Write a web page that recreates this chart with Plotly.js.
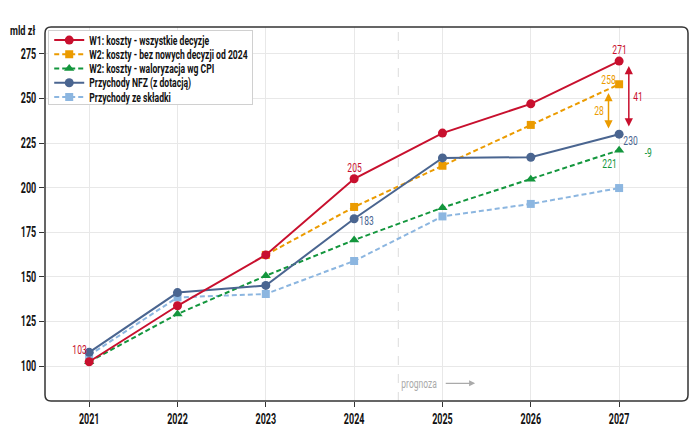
<!DOCTYPE html>
<html>
<head>
<meta charset="utf-8">
<script src="https://cdn.plot.ly/plotly-3.0.1.min.js"></script>
<style>
html,body{margin:0;padding:0;background:#fff;}
#chart{width:700px;height:435px;}
</style>
</head>
<body>
<div id="chart"></div>
<script>
const years = [2021, 2022, 2023, 2024, 2025, 2026, 2027];
const yearsW2 = [2023, 2024, 2025, 2026, 2027];
const w1Costs = [102.4, 133.8, 162.3, 205, 230.6, 247, 271];
const w2NoNew = [162.3, 189.2, 212.3, 235.2, 258];
const w2Cpi = [102.4, 129.2, 150.6, 170.7, 188.8, 204.8, 221];
const nfzRevenue = [107.7, 141.2, 145.2, 182.6, 216.7, 217.1, 230];
const contribRevenue = [106, 138.5, 140.4, 158.9, 183.9, 190.9, 199.8];
const seriesNames = [
  "W1: koszty - wszystkie decyzje",
  "W2: koszty - bez nowych decyzji od 2024",
  "W2: koszty - waloryzacja wg CPI",
  "Przychody NFZ (z dotacją)",
  "Przychody ze składki"
];
const yTicks = [100, 125, 150, 175, 200, 225, 250, 275];

const FONT = 'Roboto, "DejaVu Sans", sans-serif';
const SQUEEZE = {tick: 0.64, legend: 0.715, other: 0.68};
const RED = '#c8102e', ORANGE = '#eb9b00', GREEN = '#13963d', BLUE = '#4a6590', LBLUE = '#8cb6e0';
const DASH = '5px,3px';

const traces = [
  {x: years, y: w1Costs, name: seriesNames[0], mode: 'lines+markers',
   line: {color: RED, width: 2}, marker: {symbol: 'circle', size: 9, color: RED}},
  {x: yearsW2, y: w2NoNew, name: seriesNames[1], mode: 'lines+markers',
   line: {color: ORANGE, width: 2, dash: DASH}, marker: {symbol: 'square', size: 8, color: ORANGE}},
  {x: years, y: w2Cpi, name: seriesNames[2], mode: 'lines+markers',
   line: {color: GREEN, width: 2, dash: DASH}, marker: {symbol: 'triangle-up', size: 9, color: GREEN}},
  {x: years, y: nfzRevenue, name: seriesNames[3], mode: 'lines+markers',
   line: {color: BLUE, width: 2}, marker: {symbol: 'circle', size: 9, color: BLUE}},
  {x: years, y: contribRevenue, name: seriesNames[4], mode: 'lines+markers',
   line: {color: LBLUE, width: 2, dash: DASH}, marker: {symbol: 'square', size: 8, color: LBLUE}}
];
const ordered = [traces[4], traces[2], traces[1], traces[3], traces[0]];
ordered.forEach((t, i) => { t.legendrank = [5,3,2,4,1][i]; });

const lastIdx = years.length - 1;
const w2Last = w2NoNew[w2NoNew.length - 1];
const lab = (color) => ({family: FONT, size: 12.5, color: color});
const ann = (o) => Object.assign({showarrow: false, font: lab('#111')}, o);
const annotations = [
  ann({x: years[0], y: w1Costs[0], text: String(Math.round(w1Costs[0] + 0.6)), xanchor: 'right', yanchor: 'bottom', xshift: 3, yshift: 3, font: lab(RED)}),
  ann({x: years[3], y: w1Costs[3], text: String(w1Costs[3]), yanchor: 'bottom', yshift: 2, font: lab(RED)}),
  ann({x: years[lastIdx], y: w1Costs[lastIdx], text: String(w1Costs[lastIdx]), yanchor: 'bottom', yshift: 2, font: lab(RED)}),
  ann({x: years[3], y: nfzRevenue[3], text: String(Math.round(nfzRevenue[3])), xanchor: 'left', yanchor: 'middle', xshift: 0, yshift: -2, font: lab(BLUE)}),
  ann({x: years[lastIdx], y: w2Last, text: String(w2Last), xanchor: 'right', yanchor: 'middle', xshift: 2, yshift: 5, font: lab(ORANGE)}),
  ann({x: years[lastIdx], y: nfzRevenue[lastIdx], text: String(nfzRevenue[lastIdx]), xanchor: 'left', yanchor: 'middle', xshift: -1, yshift: -6, font: lab(BLUE)}),
  ann({x: years[lastIdx], y: w2Cpi[lastIdx], text: String(w2Cpi[lastIdx]), xanchor: 'right', yanchor: 'middle', xshift: 3, yshift: -13, font: lab(GREEN)}),
  ann({x: years[lastIdx], y: w2Cpi[lastIdx], text: String(w2Cpi[lastIdx] - nfzRevenue[lastIdx]), xanchor: 'left', yanchor: 'middle', xshift: 22, yshift: -2, font: lab(GREEN)}),
  {x: 2027.11, y: w1Costs[lastIdx] - 2.7, ax: 2027.11, ay: nfzRevenue[lastIdx] + 3.5, xref: 'x', yref: 'y', axref: 'x', ayref: 'y',
   showarrow: true, arrowside: 'end+start', arrowhead: 2, arrowsize: 1.1, arrowwidth: 1.5, arrowcolor: RED, text: ''},
  ann({x: 2027.11, y: (w1Costs[lastIdx] + nfzRevenue[lastIdx]) / 2 + 0.5, text: String(w1Costs[lastIdx] - nfzRevenue[lastIdx]), xanchor: 'left', xshift: 0, font: lab(RED)}),
  {x: 2026.88, y: w2Last - 4.9, ax: 2026.88, ay: nfzRevenue[lastIdx] + 2.4, xref: 'x', yref: 'y', axref: 'x', ayref: 'y',
   showarrow: true, arrowside: 'end+start', arrowhead: 2, arrowsize: 1.1, arrowwidth: 1.5, arrowcolor: ORANGE, text: ''},
  ann({x: 2026.88, y: (w2Last + nfzRevenue[lastIdx]) / 2 - 0.8, text: String(w2Last - nfzRevenue[lastIdx]), xanchor: 'right', xshift: -1, font: lab(ORANGE)}),
  ann({x: 2024.53, y: 90.3, text: 'prognoza', xanchor: 'left', xshift: -10, font: lab('#aaaaaa')}),
  {x: 2025.37, y: 90.3, ax: 2025.02, ay: 90.3, xref: 'x', yref: 'y', axref: 'x', ayref: 'y',
   showarrow: true, arrowhead: 2, arrowsize: 1, arrowwidth: 1.2, arrowcolor: '#aaaaaa', text: ''},
  {xref: 'paper', yref: 'paper', x: -0.035, y: 1.0, xanchor: 'center', yanchor: 'middle', yshift: -3, showarrow: false,
   text: '<b>mld zł</b>', font: {family: FONT, size: 13.5, color: '#111'}}
];

const rx = 6 / 643, ry = 6 / 374;
const frame = `M ${rx} 0 L ${1 - rx} 0 Q 1 0 1 ${ry} L 1 ${1 - ry} Q 1 1 ${1 - rx} 1 L ${rx} 1 Q 0 1 0 ${1 - ry} L 0 ${ry} Q 0 0 ${rx} 0 Z`;

const layout = {
  width: 700, height: 435,
  margin: {l: 45, r: 12, t: 27, b: 34},
  paper_bgcolor: '#fff', plot_bgcolor: '#fff',
  font: {family: FONT, size: 11, color: '#111'},
  showlegend: true,
  legend: {x: 0.005, y: 0.993, xanchor: 'left', yanchor: 'top', bgcolor: '#fff', bordercolor: '#d0d0d0', borderwidth: 1,
           font: {family: FONT, size: 12, color: '#111', weight: 'bold'}, tracegroupgap: 0, itemwidth: 30},
  xaxis: {range: [2020.5, 2027.78], tickmode: 'array', tickvals: years, ticktext: years.map(String),
          showgrid: true, gridcolor: '#e8e8e8', gridwidth: 1, zeroline: false, showline: false,
          ticks: 'outside', ticklen: 5, tickcolor: '#333', tickwidth: 1,
          tickfont: {family: FONT, size: 14, color: '#111', weight: 'bold'}},
  yaxis: {range: [80.4, 290.1], tickmode: 'array', tickvals: yTicks, ticktext: yTicks.map(String),
          showgrid: true, gridcolor: '#e8e8e8', gridwidth: 1, zeroline: false, showline: false,
          ticks: 'outside', ticklen: 5, tickcolor: '#333', tickwidth: 1,
          tickfont: {family: FONT, size: 14, color: '#111', weight: 'bold'}},
  shapes: [
    {type: 'line', xref: 'x', yref: 'paper', x0: 2024.5, x1: 2024.5, y0: 0, y1: 1,
     line: {color: '#dddddd', width: 1, dash: 'dash'}, layer: 'below'},
    {type: 'path', xref: 'paper', yref: 'paper', path: frame, line: {color: '#333', width: 1.5}, layer: 'above'}
  ],
  annotations: annotations
};

// The reference uses a narrow typeface: condense texts and tighten legend rows.
const LEGEND_ROW = 14.2, LEGEND_H = 74;
function condense(gd) {
  let maxLegend = 0;
  gd.querySelectorAll('svg text').forEach(t => {
    const L = t.getComputedTextLength();
    if (!(L > 0)) return;
    let k = SQUEEZE.other;
    if (t.closest('.legend')) { k = SQUEEZE.legend; maxLegend = Math.max(maxLegend, L); }
    else if (t.closest('.xtick, .ytick')) k = SQUEEZE.tick;
    t.setAttribute('textLength', (L * k).toFixed(2));
    t.setAttribute('lengthAdjust', 'spacingAndGlyphs');
  });
  const leg = gd.querySelector('.legend');
  if (!leg) return;
  const bg = leg.querySelector('rect.bg');
  if (bg && maxLegend > 0) {
    const w = parseFloat(bg.getAttribute('width'));
    bg.setAttribute('width', (w - maxLegend * (1 - SQUEEZE.legend) - 1).toFixed(1));
    bg.setAttribute('height', LEGEND_H);
  }
  const items = Array.from(leg.querySelectorAll('g.traces'));
  const parse = (g) => {
    const m = /translate\(\s*([-\d.]+)[ ,]+([-\d.]+)\s*\)/.exec(g.getAttribute('transform') || '');
    return m ? [parseFloat(m[1]), parseFloat(m[2])] : [0, 0];
  };
  const pos = items.map(parse);
  const order = pos.map((p, i) => i).sort((a, b) => pos[a][1] - pos[b][1]);
  const firstY = pos[order[0]][1] - 5;
  order.forEach((idx, r) => {
    items[idx].setAttribute('transform', `translate(${pos[idx][0]},${(firstY + r * LEGEND_ROW).toFixed(2)})`);
  });
  document.querySelectorAll('clipPath').forEach(cp => {
    if (cp.id.indexOf('legend') >= 0) cp.querySelectorAll('rect').forEach(c => c.setAttribute('height', LEGEND_H));
  });
}

Plotly.newPlot('chart', ordered, layout, {displayModeBar: false, staticPlot: true})
  .then(gd => condense(gd));
</script>
</body>
</html>
